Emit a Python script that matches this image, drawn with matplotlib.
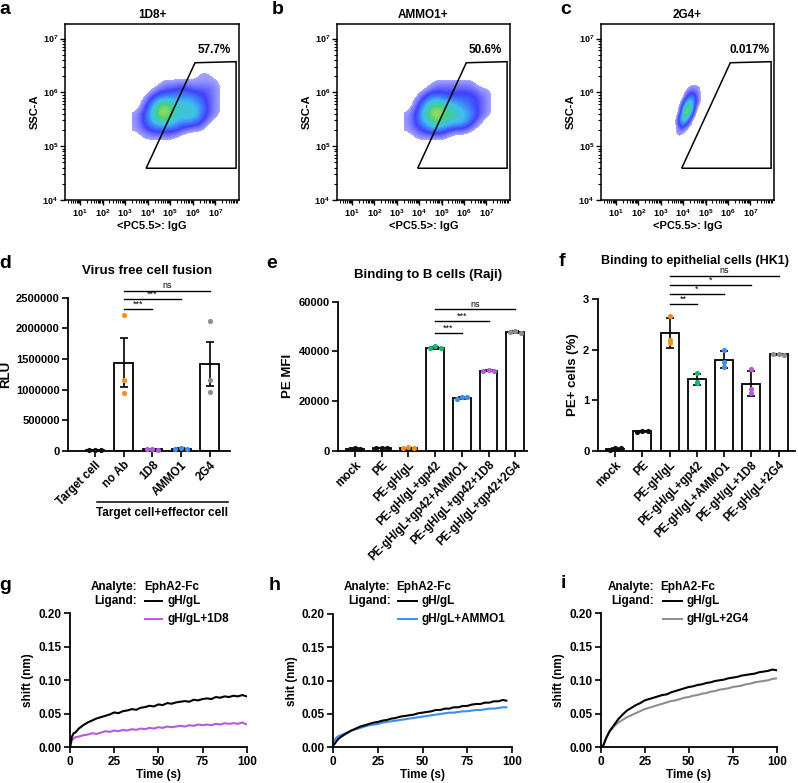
import numpy as np
import matplotlib
matplotlib.use("Agg")
import matplotlib.pyplot as plt
from matplotlib.lines import Line2D
from matplotlib.patches import Polygon
from matplotlib.colors import LinearSegmentedColormap

plt.rcParams['font.family'] = ['Liberation Sans', 'DejaVu Sans']
plt.rcParams['font.weight'] = 'bold'
plt.rcParams['axes.labelweight'] = 'bold'
plt.rcParams['axes.titleweight'] = 'bold'
plt.rcParams['mathtext.fontset'] = 'custom'
plt.rcParams['mathtext.rm'] = 'Liberation Sans'
plt.rcParams['mathtext.bf'] = 'Liberation Sans:bold'

# ---------------- data ----------------
# flow cytometry (a-c): density, log10 units
flow_titles = ["1D8+", "AMMO1+", "2G4+"]
flow_pct = ["57.7%", "50.6%", "0.017%"]
gate_x = [3.93, 6.10, 7.92, 7.92]
gate_y = [4.59, 6.55, 6.57, 4.59]

dens_a = [[0, 0, 0, 0, 0, 0, 0, 0, 0, 0, 0],
          [0, 1, 1, 1, 1, 0, 0, 0, 0, 0, 0],
          [1, 2, 3, 3, 3, 2, 1, 1, 0, 0, 0],
          [1, 3, 5, 6, 5, 4, 4, 3, 1, 0, 0],
          [1, 3, 6, 9, 6, 5, 6, 4, 2, 1, 0],
          [0, 2, 5, 8, 6, 5, 5, 4, 2, 1, 0],
          [0, 1, 3, 4, 4, 4, 4, 3, 2, 1, 0],
          [0, 0, 1, 2, 2, 3, 2, 2, 2, 1, 0],
          [0, 0, 0, 1, 1, 1, 1, 1, 1, 1, 0],
          [0, 0, 0, 0, 0, 0, 0, 1, 1, 0, 0],
          [0, 0, 0, 0, 0, 0, 0, 0, 0, 0, 0]]
dens_b = [[0, 0, 0, 0, 0, 0, 0, 0, 0, 0, 0],
          [0, 1, 1, 1, 1, 0, 0, 0, 0, 0, 0],
          [1, 2, 3, 4, 3, 2, 2, 1, 0, 0, 0],
          [1, 3, 5, 7, 6, 5, 5, 3, 1, 0, 0],
          [1, 3, 6, 9, 7, 6, 5, 4, 2, 1, 0],
          [0, 2, 5, 7, 6, 5, 4, 3, 2, 1, 0],
          [0, 1, 3, 4, 3, 3, 3, 3, 2, 1, 0],
          [0, 0, 1, 2, 2, 2, 2, 2, 1, 1, 0],
          [0, 0, 0, 1, 1, 1, 1, 1, 0, 0, 0],
          [0, 0, 0, 0, 0, 0, 0, 0, 0, 0, 0],
          [0, 0, 0, 0, 0, 0, 0, 0, 0, 0, 0]]
dens_c = [[0, 0, 0, 0, 0, 0, 0, 0, 0],
          [0, 1, 1, 0, 0, 0, 0, 0, 0],
          [0, 1, 2, 1, 0, 0, 0, 0, 0],
          [0, 1, 4, 3, 1, 0, 0, 0, 0],
          [0, 1, 5, 6, 2, 0, 0, 0, 0],
          [0, 0, 3, 9, 5, 1, 0, 0, 0],
          [0, 0, 2, 7, 7, 2, 0, 0, 0],
          [0, 0, 1, 4, 6, 3, 1, 0, 0],
          [0, 0, 0, 2, 4, 3, 1, 0, 0],
          [0, 0, 0, 1, 2, 2, 1, 0, 0],
          [0, 0, 0, 0, 1, 1, 1, 0, 0],
          [0, 0, 0, 0, 0, 0, 0, 0, 0]]
# grid origin / step (x0, dx, y0, dy)
grid_ab = (3.5, 0.4, 5.0, 0.15)
grid_c = (3.5, 0.2, 5.1, 0.1)

BLACK = "#111111"
ORANGE = "#F5901E"
PURPLE = "#B65BDB"
BLUE = "#3D8EF0"
GREY = "#8E8E8E"
GREEN = "#1FB46E"

# d: virus free cell fusion (RLU)
d_cats = ["Target cell", "no Ab", "1D8", "AMMO1", "2G4"]
d_pts = [[10000, 5000, 12000],
         [2220000, 1150000, 950000],
         [20000, 22000, 18000],
         [25000, 45000, 30000],
         [2120000, 1150000, 960000]]
d_cols = [BLACK, ORANGE, PURPLE, BLUE, GREY]
d_sig = [(1, 2, 2315000, "***"), (1, 3, 2473000, "***"), (1, 4, 2614000, "ns")]

# e: binding to B cells (PE MFI)
e_cats = ["mock", "PE", "PE-gH/gL", "PE-gH/gL+gp42", "PE-gH/gL+gp42+AMMO1",
          "PE-gH/gL+gp42+1D8", "PE-gH/gL+gp42+2G4"]
e_pts = [[700, 900, 800],
         [900, 1100, 1000],
         [900, 1300, 1000],
         [41300, 42000, 41200],
         [20800, 21600, 21600],
         [32000, 32400, 32200],
         [47600, 48100, 47500]]
e_cols = [BLACK, BLACK, ORANGE, GREEN, BLUE, PURPLE, GREY]
e_sig = [(3, 4, 47500, "***"), (3, 5, 52350, "***"), (3, 6, 57050, "ns")]

# f: binding to epithelial cells (PE+ %)
f_cats = ["mock", "PE", "PE-gH/gL", "PE-gH/gL+gp42", "PE-gH/gL+AMMO1",
          "PE-gH/gL+1D8", "PE-gH/gL+2G4"]
f_pts = [[0.01, 0.06, 0.05],
         [0.38, 0.40, 0.39],
         [2.67, 2.19, 2.14],
         [1.53, 1.36, 1.35],
         [1.99, 1.76, 1.66],
         [1.62, 1.22, 1.15],
         [1.92, 1.91, 1.90]]
f_cols = [BLACK, BLACK, ORANGE, GREEN, BLUE, PURPLE, GREY]
f_sig = [(2, 3, 2.895, "**"), (2, 4, 3.09, "*"), (2, 5, 3.276, "*"), (2, 6, 3.46, "ns")]

# g-i: BLI shift (nm) vs time (s)
t_full = [0, 1, 2, 3, 5, 7.5, 10, 12.5, 15, 17.5, 20, 22.5, 25, 27.5, 30, 32.5, 35,
          37.5, 40, 42.5, 45, 47.5, 50, 52.5, 55, 57.5, 60, 62.5, 65, 67.5, 70,
          72.5, 75, 77.5, 80, 82.5, 85, 87.5, 90, 92.5, 95, 97.5, 100]
t_short = [0, 1, 2, 3, 5, 7.5, 10, 12.5, 15, 17.5, 20, 22.5, 25, 27.5, 30, 32.5, 35,
           37.5, 40, 42.5, 45, 47.5, 50, 52.5, 55, 57.5, 60, 62.5, 65, 67.5, 70,
           72.5, 75, 77.5, 80, 82.5, 85, 87.5, 90, 92.5, 95, 97]
g_black = [0.000, 0.015, 0.021, 0.022, 0.028, 0.033, 0.037, 0.040, 0.043, 0.045, 0.047,
           0.049, 0.052, 0.051, 0.054, 0.055, 0.057, 0.056, 0.059, 0.060, 0.062, 0.061,
           0.064, 0.063, 0.066, 0.065, 0.067, 0.068, 0.069, 0.068, 0.071, 0.070, 0.072,
           0.073, 0.072, 0.075, 0.074, 0.076, 0.075, 0.077, 0.076, 0.078, 0.076]
g_1d8 = [0.000, 0.010, 0.013, 0.015, 0.016, 0.018, 0.019, 0.021, 0.020, 0.022, 0.024,
         0.023, 0.025, 0.024, 0.026, 0.025, 0.027, 0.026, 0.028, 0.027, 0.029, 0.028,
         0.030, 0.029, 0.031, 0.030, 0.031, 0.032, 0.031, 0.033, 0.032, 0.034, 0.033,
         0.034, 0.033, 0.035, 0.034, 0.036, 0.035, 0.036, 0.035, 0.037, 0.034]
h_black = [0.003, 0.006, 0.010, 0.013, 0.017, 0.021, 0.025, 0.028, 0.031, 0.033, 0.035,
           0.037, 0.038, 0.040, 0.041, 0.043, 0.044, 0.046, 0.047, 0.048, 0.049, 0.051,
           0.052, 0.053, 0.054, 0.056, 0.056, 0.058, 0.058, 0.060, 0.060, 0.062, 0.062,
           0.064, 0.065, 0.065, 0.067, 0.067, 0.069, 0.069, 0.071, 0.070]
h_ammo1 = [0.008, 0.012, 0.015, 0.017, 0.019, 0.022, 0.025, 0.027, 0.029, 0.031, 0.033,
           0.034, 0.035, 0.037, 0.038, 0.039, 0.040, 0.041, 0.042, 0.043, 0.044, 0.045,
           0.046, 0.047, 0.048, 0.049, 0.050, 0.051, 0.052, 0.052, 0.053, 0.054, 0.054,
           0.055, 0.056, 0.056, 0.057, 0.058, 0.058, 0.059, 0.060, 0.060]
i_black = [0.000, 0.000, 0.006, 0.013, 0.024, 0.033, 0.042, 0.049, 0.055, 0.059, 0.063,
           0.066, 0.070, 0.072, 0.074, 0.076, 0.078, 0.079, 0.082, 0.084, 0.086, 0.088,
           0.090, 0.091, 0.093, 0.094, 0.096, 0.097, 0.099, 0.100, 0.101, 0.103, 0.104,
           0.105, 0.107, 0.108, 0.109, 0.110, 0.112, 0.113, 0.114, 0.116, 0.115]
i_2g4 = [0.000, 0.000, 0.007, 0.014, 0.023, 0.031, 0.037, 0.041, 0.045, 0.048, 0.051,
         0.054, 0.057, 0.059, 0.061, 0.063, 0.065, 0.067, 0.069, 0.070, 0.072, 0.074,
         0.075, 0.077, 0.078, 0.080, 0.081, 0.083, 0.084, 0.086, 0.087, 0.088, 0.090,
         0.091, 0.092, 0.094, 0.095, 0.097, 0.098, 0.099, 0.100, 0.102, 0.103]

# ---------------- helpers ----------------
W, H = 798, 783
fig = plt.figure(figsize=(W / 100, H / 100), dpi=100)


def rect(l, r, t, b):
    return [l / W, 1 - b / H, (r - l) / W, (b - t) / H]


def ftext(x, y, s, **kw):
    fig.text(x / W, 1 - y / H, s, **kw)


def fline(x1, x2, y, **kw):
    fig.add_artist(Line2D([x1 / W, x2 / W], [1 - y / H, 1 - y / H],
                          transform=fig.transFigure, **kw))


# flow density colours: sparse edge pale blue -> blue -> cyan -> green -> yellow -> red
flow_cmap = LinearSegmentedColormap.from_list(
    "flow", [(0.0, "#9C9CFF"), (0.18, "#2A2AFF"), (0.42, "#28B8F0"),
             (0.62, "#2FCB7A"), (0.80, "#B8DC2A"), (0.92, "#F39A1A"), (1.0, "#E0301C")])
flow_cmap.set_under((1, 1, 1, 0))


def flow_panel(l, r, title, pct, dens, grid):
    ax = fig.add_axes(rect(l, r, 24, 200))
    ax.set_xlim(0.33, 8.05)
    ax.set_ylim(4.0, 7.27)
    g = np.array(dens, float)
    x0, dx, y0, dy = grid
    ext = [x0 - dx / 2, x0 + (g.shape[1] - 0.5) * dx,
           y0 - dy / 2, y0 + (g.shape[0] - 0.5) * dy]
    ax.imshow(g, origin='lower', extent=ext, aspect='auto', cmap=flow_cmap,
              vmin=0.8, vmax=10, interpolation='bicubic',
              interpolation_stage='data', alpha=0.9, zorder=1)
    ax.add_patch(Polygon(list(zip(gate_x, gate_y)), closed=True, fill=False,
                         edgecolor='black', lw=1.1, zorder=3))
    ax.text(6.95, 6.78, pct, ha='center', va='center', fontsize=8.5)
    ax.set_title(title, fontsize=8.5, pad=4, fontweight='bold')
    ax.set_xticks(range(1, 8))
    ax.set_xticklabels([r'$\mathbf{10^{%d}}$' % n for n in range(1, 8)], fontsize=6.5)
    ax.set_yticks(range(4, 8))
    ax.set_yticklabels([r'$\mathbf{10^{%d}}$' % n for n in range(4, 8)], fontsize=6.5)
    mx = [n + np.log10(k) for n in range(0, 9) for k in range(2, 10)
          if 0.33 < n + np.log10(k) < 8.05]
    my = [n + np.log10(k) for n in range(4, 8) for k in range(2, 10)
          if 4.0 < n + np.log10(k) < 7.27]
    ax.set_xticks(mx, minor=True)
    ax.set_yticks(my, minor=True)
    ax.tick_params(which='major', direction='out', length=3.5, width=1, pad=1.5)
    ax.tick_params(which='minor', direction='out', length=2, width=0.8)
    for s in ax.spines.values():
        s.set_linewidth(1.1)
    ax.set_xlabel("<PC5.5>: IgG", fontsize=8, labelpad=2)
    ax.set_ylabel("SSC-A", fontsize=8, labelpad=2)
    return ax


def prism_axes(ax):
    for s in ['top', 'right']:
        ax.spines[s].set_visible(False)
    for s in ['left', 'bottom']:
        ax.spines[s].set_linewidth(1.3)
    ax.tick_params(direction='out', length=4, width=1.2, pad=2)


def bar_panel(box, cats, pts, cols, ylim, yticks, ytl, xlim, err, sig):
    ax = fig.add_axes(rect(*box))
    prism_axes(ax)
    x = np.arange(len(cats))
    means = np.array([np.mean(p) for p in pts])
    sd = np.array([np.std(p, ddof=1) for p in pts])
    e = sd / np.sqrt(3) if err == 'sem' else sd
    ax.bar(x, means, width=0.66, color='white', edgecolor='black', linewidth=1.3, zorder=2)
    ax.errorbar(x, means, yerr=e, fmt='none', ecolor='black', elinewidth=1.2,
                capsize=3, capthick=1.2, zorder=3, clip_on=False)
    for i, p in enumerate(pts):
        spread = (max(p) - min(p)) < 0.04 * ylim[1]
        offs = np.array([-0.2, 0.0, 0.2]) if spread else np.zeros(3)
        ax.scatter(x[i] + offs, p, s=14, color=cols[i], zorder=4, clip_on=False,
                   linewidths=0)
    for i, j, y, lab in sig:
        ax.plot([i, j], [y, y], color='black', lw=1.0, clip_on=False)
        ax.annotate(lab, ((i + j) / 2, y), xytext=(0, 0.3), textcoords='offset points',
                    ha='center', va='bottom', fontsize=6.5, fontweight='normal',
                    annotation_clip=False)
    ax.set_xlim(*xlim)
    ax.set_ylim(*ylim)
    ax.set_yticks(yticks)
    ax.set_yticklabels(ytl, fontsize=8)
    ax.set_xticks(x)
    ax.set_xticklabels(cats, rotation=45, ha='right', rotation_mode='anchor', fontsize=8.3)
    return ax


def kin_panel(box, ta, ya, tb, yb, col_b, lab_b, ylabel, leg):
    ax = fig.add_axes(rect(*box))
    prism_axes(ax)
    ax.plot(ta, ya, color='black', lw=1.5, zorder=3)
    ax.plot(tb, yb, color=col_b, lw=1.5, zorder=2)
    ax.set_xlim(0, 100)
    ax.set_ylim(0, 0.2)
    ax.set_xticks([0, 25, 50, 75, 100])
    ax.set_yticks([0, 0.05, 0.10, 0.15, 0.20])
    ax.set_yticklabels(["0.00", "0.05", "0.10", "0.15", "0.20"], fontsize=8.5)
    ax.set_xticklabels(["0", "25", "50", "75", "100"], fontsize=8.5)
    ax.set_xlabel("Time (s)", fontsize=8.5, labelpad=1)
    ax.set_ylabel(ylabel, fontsize=8.5, labelpad=3)
    xr, xv, lx1, lx2, tx = leg
    ftext(xr, 586.7, "Analyte:", ha='right', va='center', fontsize=8.5)
    ftext(xv, 586.7, "EphA2-Fc", ha='left', va='center', fontsize=8.5)
    ftext(xr, 600.7, "Ligand:", ha='right', va='center', fontsize=8.5)
    fline(lx1, lx2, 600.7, color='black', lw=1.4)
    ftext(tx, 600.7, "gH/gL", ha='left', va='center', fontsize=8.5)
    fline(lx1, lx2, 619.3, color=col_b, lw=1.4)
    ftext(tx, 619.3, lab_b, ha='left', va='center', fontsize=8.5)
    return ax


# ---------------- row 1: flow ----------------
flow_panel(65, 239, flow_titles[0], flow_pct[0], dens_a, grid_ab)
flow_panel(337, 510, flow_titles[1], flow_pct[1], dens_b, grid_ab)
flow_panel(601, 774, flow_titles[2], flow_pct[2], dens_c, grid_c)

# ---------------- row 2: bars ----------------
axd = bar_panel((68, 230, 297.7, 450.7), d_cats, d_pts, d_cols, (0, 2500000),
                [0, 500000, 1000000, 1500000, 2000000, 2500000],
                ["0", "500000", "1000000", "1500000", "2000000", "2500000"],
                (-0.94, 4.7), 'sem', d_sig)
axd.set_ylabel("RLU", fontsize=9.5, labelpad=3)
ftext(147, 271, "Virus free cell fusion", ha='center', va='center', fontsize=9.5)
fline(97, 228, 502.3, color='black', lw=1.1)
ftext(162, 513.3, "Target cell+effector cell", ha='center', va='center', fontsize=8.5)

axe = bar_panel((338, 527, 301.7, 450.7), e_cats, e_pts, e_cols, (0, 60000),
                [0, 20000, 40000, 60000], ["0", "20000", "40000", "60000"],
                (-0.64, 6.44), 'sd', e_sig)
axe.set_ylabel("PE MFI", fontsize=9.5, labelpad=3)
ftext(428, 275, "Binding to B cells (Raji)", ha='center', va='center', fontsize=9.5)

axf = bar_panel((597.7, 795, 299, 451), f_cats, f_pts, f_cols, (0, 3),
                [0, 1, 2, 3], ["0", "1", "2", "3"], (-0.64, 6.6), 'sd', f_sig)
axf.set_ylabel("PE+ cells (%)", fontsize=9.5, labelpad=3)
ftext(695, 261, "Binding to epithelial cells (HK1)", ha='center', va='center', fontsize=9)

# ---------------- row 3: kinetics ----------------
kin_panel((70, 246.7, 613.3, 747.3), t_full, g_black, t_full, g_1d8, PURPLE,
          "gH/gL+1D8", "shift (nm)", (137, 144, 145, 162, 167))
kin_panel((333.3, 511.7, 614, 747.3), t_short, h_black, t_short, h_ammo1, BLUE,
          "gH/gL+AMMO1", "shit (nm)", (390.7, 396.7, 398, 417, 421.7))
kin_panel((600.7, 776.7, 613.3, 747.3), t_full, i_black, t_full, i_2g4, GREY,
          "gH/gL+2G4", "shift (nm)", (654, 660.7, 663, 682, 686.7))

# ---------------- panel letters ----------------
for lab, x, y in [("a", 5, 10), ("b", 278, 9), ("c", 566, 10),
                  ("d", 5, 263), ("e", 272, 263), ("f", 562, 262),
                  ("g", 5, 585), ("h", 275, 585), ("i", 563, 583)]:
    ftext(x, y, lab, ha='center', va='center', fontsize=14)

fig.savefig("out.png", dpi=100)
